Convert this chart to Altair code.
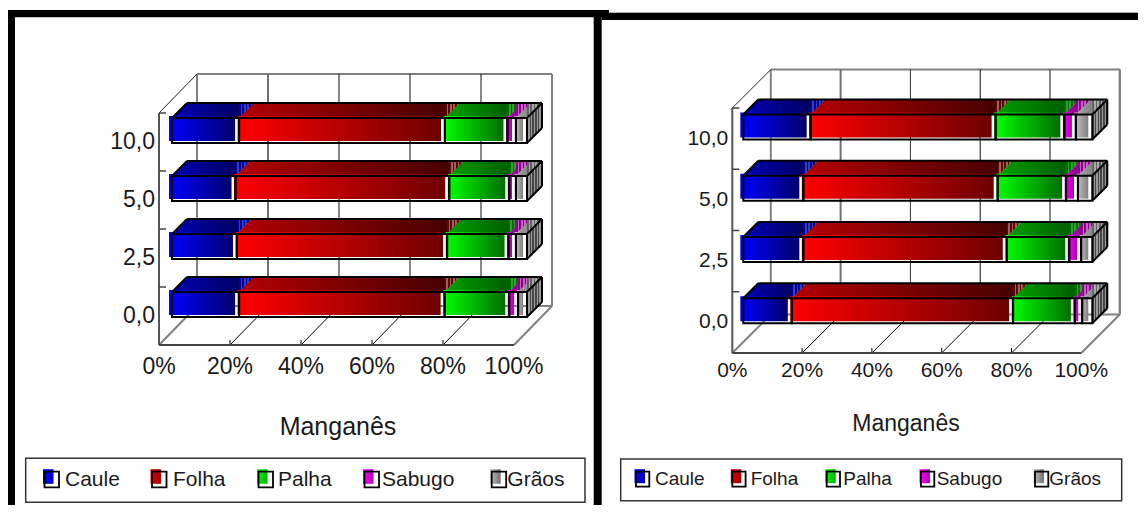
import altair as alt
import pandas as pd

ROWS = ["0,0", "2,5", "5,0", "10,0"]
SERIES = ["Caule", "Folha", "Palha", "Sabugo", "Grãos"]
TICKS = [0, 20, 40, 60, 80, 100]
TITLE = "Manganês"

# share per row (ROWS order) for each series, left chart
L_CAULE = [18.9, 18.3, 17.9, 18.9]
L_FOLHA = [57.9, 59.2, 60.2, 58.0]
L_PALHA = [18.2, 17.3, 16.9, 17.6]
L_SABUGO = [2.5, 2.1, 1.9, 2.4]
L_GRAOS = [2.5, 3.1, 3.1, 3.1]
# right chart
R_CAULE = [13.9, 17.2, 17.2, 19.3]
R_FOLHA = [63.4, 58.3, 55.7, 53.0]
R_PALHA = [17.7, 17.9, 19.6, 19.7]
R_SABUGO = [2.1, 3.4, 3.4, 3.3]
R_GRAOS = [2.9, 3.2, 4.1, 4.7]

FRONT = [("#0000ff", "#00006e"), ("#ff0000", "#6e0000"), ("#00ff00", "#006e00"),
         ("#ff00ff", "#b000b0"), ("#c4c4c4", "#808080")]
TOP = [("#0000b4", "#000050"), ("#b40000", "#400000"), ("#00a000", "#005000"),
       ("#b000b0", "#700070"), ("#a8a8a8", "#606060")]
STRIPE = [("#0000a0", "#3040b0"), ("#5a0808", "#a06060"), ("#007000", "#30a030"),
          ("#900090", "#c060c0"), ("#606060", "#a8a8a8")]
SWATCH = [("#0000ff", "#0000c0"), ("#e00000", "#a00000"), ("#00ff00", "#00b000"),
          ("#ff00ff", "#b000b0"), ("#c0c0c0", "#707070")]

FONT = "Liberation Sans"
PAGE_BOTTOM = 505


def grad(a, b):
    return {"gradient": "linear", "x1": 0, "y1": 0, "x2": 1, "y2": 0,
            "stops": [{"offset": 0, "color": a}, {"offset": 1, "color": b}]}


def stripes(a, b, n=9):
    stops = []
    for i in range(n):
        c = a if i % 2 == 0 else b
        stops.append({"offset": i / n, "color": c})
        stops.append({"offset": (i + 1) / n, "color": c})
    return {"gradient": "linear", "x1": 0, "y1": 0, "x2": 1, "y2": 0, "stops": stops}


def panel(cfg, values):
    x0, sx, y0, sy = cfg["x0"], cfg["sx"], cfg["y0"], cfg["sy"]
    xd = lambda px: (px - x0) / sx
    yd = lambda py: (y0 - py) / sy
    wx, wy = cfg["wall"][0] / sx, cfg["wall"][1] / sy
    X = alt.X("x:Q", axis=None, title=None,
              scale=alt.Scale(domain=[xd(cfg["left"]), xd(cfg["right"])], nice=False, zero=False))
    Y = alt.Y("y:Q", axis=None, title=None,
              scale=alt.Scale(domain=[yd(PAGE_BOTTOM), yd(8)], nice=False, zero=False))

    def rects(rows, **mark):
        return alt.Chart(pd.DataFrame(rows)).mark_rect(**mark).encode(x=X, x2="x2:Q", y=Y, y2="y2:Q")

    def box(l, t, r, b):
        return {"x": xd(l), "x2": xd(r), "y": yd(t), "y2": yd(b)}

    def text(rows, size, align="center"):
        return alt.Chart(pd.DataFrame(rows)).mark_text(
            font=FONT, fontSize=size, align=align, baseline="middle", color="#1a1a1a"
        ).encode(x=X, y=Y, text="t:N")

    # frame, wall and floor lines
    lines = []

    def seg(a, b, c, d, color, width):
        i = len(lines)
        lines.append({"id": i, "o": 0, "x": a, "y": b, "c": color, "w": width})
        lines.append({"id": i, "o": 1, "x": c, "y": d, "c": color, "w": width})

    G, K = "#808080", "#000000"
    n = len(ROWS)
    seg(wx, n + wy, 100 + wx, n + wy, G, 2)
    seg(100 + wx, wy, 100 + wx, n + wy, G, 2)
    seg(wx, wy, 100 + wx, wy, G, 2)
    for t, color, w in zip(TICKS, cfg["grid"], cfg["gridw"]):
        seg(t + wx, wy, t + wx, n + wy, color, w)
    seg(0, 0, wx, wy, G, 2)
    seg(100, 0, 100 + wx, wy, G, 2)
    for t in TICKS[1:-1]:
        seg(t, 0, t + wx, wy, K, 1)
        seg(t, 0, t, 5 / sy, K, 1)
    seg(0, n, wx, n + wy, "#222222", 1)
    seg(0, 0, 0, n, "#555555", 2)
    seg(0, 0, 100, 0, "#444444", 2)
    for i in range(1, n + 1):
        seg(0, i, 7 / sx, i, "#444444", 1.5)
    walls = alt.Chart(pd.DataFrame(lines)).mark_line().encode(
        x=X, y=Y, detail="id:N", order="o:Q",
        color=alt.Color("c:N", scale=None), strokeWidth=alt.StrokeWidth("w:Q", scale=None))

    ox = cfg["ox"] / sx
    dx, dy = cfg["depth"] / sx, cfg["depth"] / sy
    k = dy / dx
    bh = cfg["barh"] / sy
    layers = [walls]

    top_layers, fill_layers, outlines, edges = [], [], [], []
    ends = [0.0] * n
    for s, (name, vals) in enumerate(zip(SERIES, values)):
        tops, tips, fronts = [], [], []
        for r, v in enumerate(vals):
            a = ends[r] + ox
            b = a + v
            ends[r] += v
            yb = r + cfg["barb"]
            yt = yb + bh
            for x in sorted({a, b, a + dx, b + dx}):
                tops.append({"row": r, "x": x, "y": yt + min(x - a, dx) * k, "y2": yt + max(0, x - b) * k})
            for x in (b, b + dx):
                tips.append({"row": r, "x": x, "y": yt + dy, "y2": yt + (x - b) * k})
            lead = 3 if s == 0 else 1.5
            fronts.append({"x": a - lead / sx, "x2": b - 4 / sx, "y": yb + 2 / sy, "y2": yt + 2 / sy})
            outlines.append({"x": a, "x2": b, "y": yb, "y2": yt})
        top_layers.append(alt.Chart(pd.DataFrame(tops)).mark_area(fill=grad(*TOP[s])).encode(
            x=X, y=Y, y2="y2:Q", detail="row:N"))
        top_layers.append(alt.Chart(pd.DataFrame(tips)).mark_area(fill=stripes(*STRIPE[s])).encode(
            x=X, y=Y, y2="y2:Q", detail="row:N"))
        fill_layers.append(rects(fronts, fill=grad(*FRONT[s])))

    # right side faces and the heavy outline of each bar
    sides = []
    bar_lines = []

    def bar_seg(a, b, c, d):
        i = len(bar_lines)
        bar_lines.append({"id": i, "o": 0, "x": a, "y": b})
        bar_lines.append({"id": i, "o": 1, "x": c, "y": d})

    for r in range(n):
        yb = r + cfg["barb"]
        yt = yb + bh
        a, b = ox, ox + 100
        for x in (b, b + dx):
            sides.append({"row": r, "x": x, "y": yt + (x - b) * k, "y2": yb + (x - b) * k})
        bar_seg(a, yt, a + dx, yt + dy)
        bar_seg(a + dx, yt + dy, b + dx, yt + dy)
        bar_seg(b, yt, b + dx, yt + dy)
        bar_seg(b + dx, yt + dy, b + dx, yb + dy)
        bar_seg(b + dx, yb + dy, b, yb)
    side_layer = alt.Chart(pd.DataFrame(sides)).mark_area(fill=stripes("#484848", "#989898", 11)).encode(
        x=X, y=Y, y2="y2:Q", detail="row:N")
    outline_layer = rects(outlines, fillOpacity=0, stroke="#000000", strokeWidth=2)
    edge_layer = alt.Chart(pd.DataFrame(bar_lines)).mark_line(color="#000000", strokeWidth=2).encode(
        x=X, y=Y, detail="id:N", order="o:Q")

    layers += top_layers + [side_layer] + fill_layers + [outline_layer, edge_layer]

    # tick labels and title
    layers.append(text([{"x": xd(x0 - 4), "y": i + 0.5, "t": t} for i, t in enumerate(ROWS)],
                       cfg["tick_size"], "right"))
    layers.append(text([{"x": t, "y": yd(cfg["xlab"]), "t": f"{t}%"} for t in TICKS], cfg["tick_size"]))
    layers.append(text([{"x": xd(cfg["title"][0]), "y": yd(cfg["title"][1]), "t": TITLE}], cfg["title_size"]))

    # legend
    lb = cfg["legend"]
    layers.append(rects([box(*lb)], fill="#ffffff", stroke="#333333", strokeWidth=1.5))
    sw_t, sw_b = cfg["sw_y"]
    for s, (name, px, tx) in enumerate(zip(SERIES, cfg["sw_x"], cfg["txt_x"])):
        layers.append(rects([box(px - 1.5, sw_t - 2.5, px + 9, sw_b - 3.5)], fill=grad(*SWATCH[s])))
        layers.append(rects([box(px, sw_t, px + cfg["sw_w"], sw_b)], fillOpacity=0, stroke="#000000", strokeWidth=1.8))
        layers.append(text([{"x": xd(tx), "y": yd(cfg["txt_y"]), "t": name}], cfg["leg_size"], "left"))

    # black frames
    layers.append(rects([box(*f) for f in cfg["frames"]], fill="#000000"))
    if cfg.get("hair"):
        layers.append(rects([box(*f) for f in cfg["hair"]], fill="#b0b0b0"))

    return alt.layer(*layers).properties(width=cfg["right"] - cfg["left"], height=PAGE_BOTTOM - 8)


LEFT = dict(
    left=8, right=602, x0=159, sx=3.55, y0=345, sy=58, wall=(38, 39), ox=13, depth=15,
    barh=25, barb=0.483, tick_size=23, title_size=25, leg_size=21, xlab=367, title=(338, 427),
    legend=(25.7, 458.3, 585, 502.3), sw_x=[44.5, 152, 258.5, 364.5, 491.7], sw_w=14.5, sw_y=(471.7, 487.3),
    txt_x=[65, 173, 278, 382, 507.3], txt_y=480,
    grid=["#808080", "#707070", "#111111", "#111111", "#111111", "#808080"], gridw=[2, 2, 1, 1, 1, 2],
    frames=[(8, 10, 15, PAGE_BOTTOM), (8, 10, 609, 17.3), (593.7, 10, 601.7, PAGE_BOTTOM)],
)
RIGHT = dict(
    left=602, right=1138, x0=732.3, sx=3.49, y0=353, sy=61.25, wall=(38.5, 38.5), ox=11, depth=15,
    barh=25, barb=0.487, tick_size=21, title_size=23, leg_size=19, xlab=371, title=(906, 424),
    legend=(620.7, 459, 1121.7, 500.7), sw_x=[636, 732.3, 826.7, 921, 1035], sw_w=13.3, sw_y=(471.7, 486.7),
    txt_x=[655, 750.7, 843.3, 936.7, 1049.3], txt_y=479,
    grid=["#808080", "#707070", "#333333", "#111111", "#111111", "#808080"], gridw=[2, 2, 1, 1, 1, 2],
    frames=[(602, 12.8, 1138, 20)], hair=[(609, 12, 1138, 13)],
)

chart = alt.hconcat(
    panel(LEFT, [L_CAULE, L_FOLHA, L_PALHA, L_SABUGO, L_GRAOS]),
    panel(RIGHT, [R_CAULE, R_FOLHA, R_PALHA, R_SABUGO, R_GRAOS]),
    spacing=0, padding=0, bounds="flush",
).configure_view(stroke=None)

chart.save("out.html", embed_options={"renderer": "svg", "actions": False})
